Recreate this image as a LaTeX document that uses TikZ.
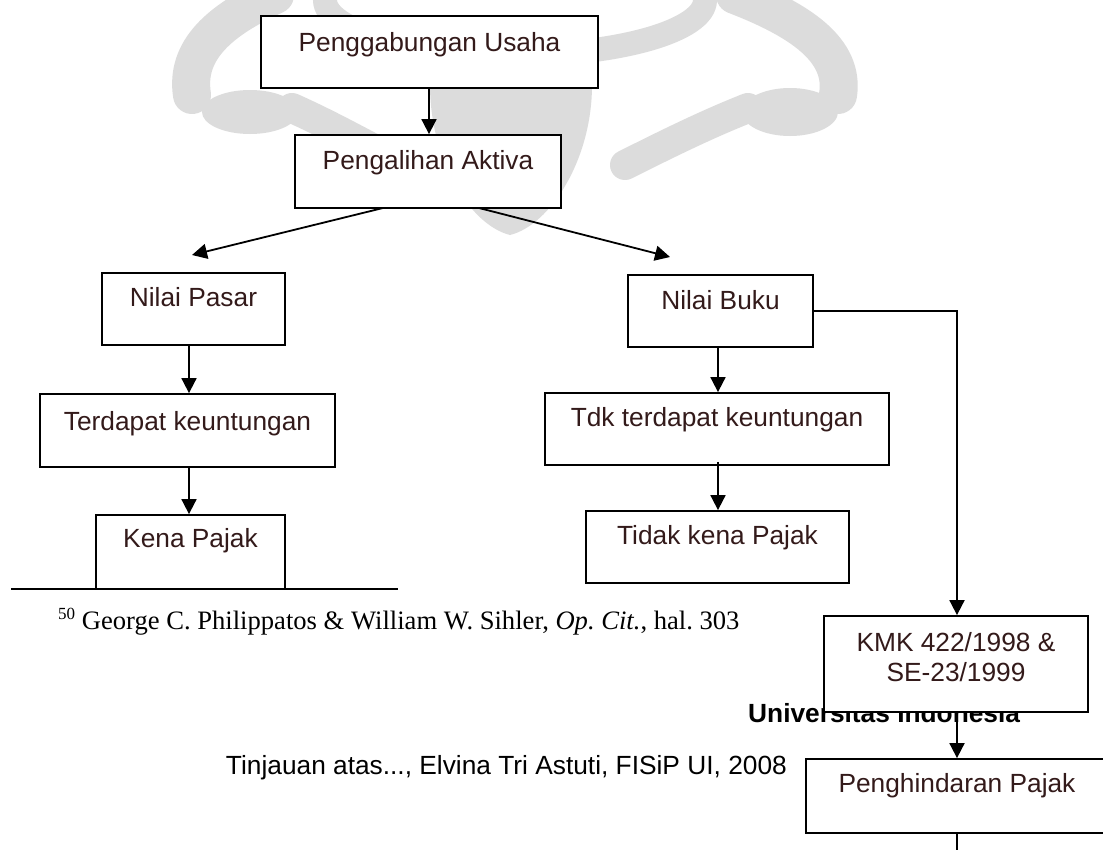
\documentclass[tikz,border=0pt]{standalone}
\usepackage{fontspec}
\setmainfont{Liberation Sans}
\newfontfamily\timesfont{Liberation Serif}
\usetikzlibrary{arrows.meta}
\definecolor{txtcol}{RGB}{51,26,26}
\definecolor{wm}{RGB}{220,220,220}
\frenchspacing
\begin{document}
\begin{tikzpicture}[x=1pt,y=-1pt,
  box/.style={draw=black,line width=1.8pt,fill=white,inner sep=0pt},
  lbl/.style={anchor=base,text=txtcol,font=\fontsize{26.3pt}{31pt}\selectfont,inner sep=0pt},
  conn/.style={line width=1.8pt,-{Triangle[length=15pt,width=15pt]}},
  plain/.style={line width=1.8pt},
  wmark/.style={draw=wm,line cap=round}]
\useasboundingbox (0,0) rectangle (1103,849);
\fill[white] (0,0) rectangle (1103,849);
% watermark (approximate)
\draw[wmark,line width=38pt] (275,-5) .. controls (220,20) and (185,50) .. (192,95);
\fill[wm] (250,112) ellipse [x radius=48pt,y radius=22pt];
\draw[wmark,line width=30pt] (292,108) .. controls (330,125) and (360,142) .. (395,160);
\draw[wmark,line width=38pt] (735,-5) .. controls (800,20) and (845,50) .. (838,95);
\fill[wm] (790,112) ellipse [x radius=48pt,y radius=24pt];
\draw[wmark,line width=30pt] (748,108) .. controls (705,125) and (665,145) .. (625,165);
\draw[wmark,line width=24pt] (515,0) ellipse [x radius=190pt,y radius=55pt];
\fill[wm] (430,85) .. controls (430,160) and (470,225) .. (510,235) .. controls (550,225) and (592,160) .. (592,85) -- cycle;
% boxes
\node[box,minimum width=337pt,minimum height=72pt] (pu) at (429.5,52) {};
\node[lbl] at ([yshift=-36pt]pu.north) {Penggabungan Usaha};
\node[box,minimum width=266pt,minimum height=73pt] (pa) at (428,171.5) {};
\node[lbl] at ([yshift=-35pt]pa.north) {Pengalihan Aktiva};
\node[box,minimum width=183pt,minimum height=72pt] (np) at (193.5,309) {};
\node[lbl] at ([yshift=-34pt]np.north) {Nilai Pasar};
\node[box,minimum width=295pt,minimum height=73pt] (td) at (187.5,430.5) {};
\node[lbl] at ([yshift=-37pt]td.north) {Terdapat keuntungan};
\node[box,minimum width=189pt,minimum height=74pt] (kp) at (190.5,552) {};
\node[lbl] at ([yshift=-33pt]kp.north) {Kena Pajak};
\draw[plain] (11,589) -- (398,589);
\node[box,minimum width=185pt,minimum height=72pt] (nb) at (720.5,311) {};
\node[lbl] at ([yshift=-35pt]nb.north) {Nilai Buku};
\node[box,minimum width=344pt,minimum height=72pt] (tdk) at (717,429) {};
\node[lbl] at ([yshift=-34pt]tdk.north) {Tdk terdapat keuntungan};
\node[box,minimum width=263pt,minimum height=72pt] (tkp) at (717.5,547) {};
\node[lbl] at ([yshift=-34pt]tkp.north) {Tidak kena Pajak};
% footer texts
\node[anchor=base west,inner sep=0pt,font=\bfseries\fontsize{26.3pt}{31pt}\selectfont] (ui) at (748,722) {Universitas Indonesia};
\node[anchor=base east,inner sep=0pt,font=\fontsize{26.3pt}{31pt}\selectfont] (tj) at (787,774) {Tinjauan atas..., Elvina Tri Astuti, FISiP UI, 2008};
\node[anchor=base west,inner sep=0pt,font=\timesfont\fontsize{26.6pt}{31pt}\selectfont] (fn) at (58,629) {\raisebox{10pt}{\fontsize{17pt}{20pt}\selectfont 50} George C. Philippatos \& William W. Sihler, \textit{Op. Cit.}, hal. 303};
% right branch
\node[box,minimum width=264pt,minimum height=96pt] (kmk) at (956,664) {};
\node[lbl] at ([yshift=-36pt]kmk.north) {KMK 422/1998 \&};
\node[lbl] at ([yshift=-66pt]kmk.north) {SE-23/1999};
\node[box,minimum width=302pt,minimum height=74pt] (ph) at (957,796) {};
\node[lbl] at ([yshift=-34pt]ph.north) {Penghindaran Pajak};
% connectors
\coordinate (xm) at (429,0);
\coordinate (xl) at (189,0);
\coordinate (xr) at (718,0);
\coordinate (xk) at (957,0);
\coordinate (la) at (383,208);
\coordinate (lt) at (192,255);
\coordinate (ra) at (479,208);
\coordinate (rt) at (670,257);
\coordinate (corner) at (957,311);
\coordinate (bottom) at (957,855);
\draw[conn] (xm |- pu.south) -- (xm |- pa.north);
\draw[conn] (la) -- (lt);
\draw[conn] (ra) -- (rt);
\draw[conn] (xl |- np.south) -- (xl |- td.north);
\draw[conn] (xl |- td.south) -- (xl |- kp.north);
\draw[conn] (xr |- nb.south) -- (xr |- tdk.north);
\draw[conn] ([yshift=4pt]xr |- tdk.south) -- (xr |- tkp.north);
\draw[conn] (nb.east) -- (corner) -- (xk |- kmk.north);
\draw[conn] (xk |- kmk.south) -- (xk |- ph.north);
\draw[plain] (ph.south) -- (bottom);
\end{tikzpicture}
\end{document}
